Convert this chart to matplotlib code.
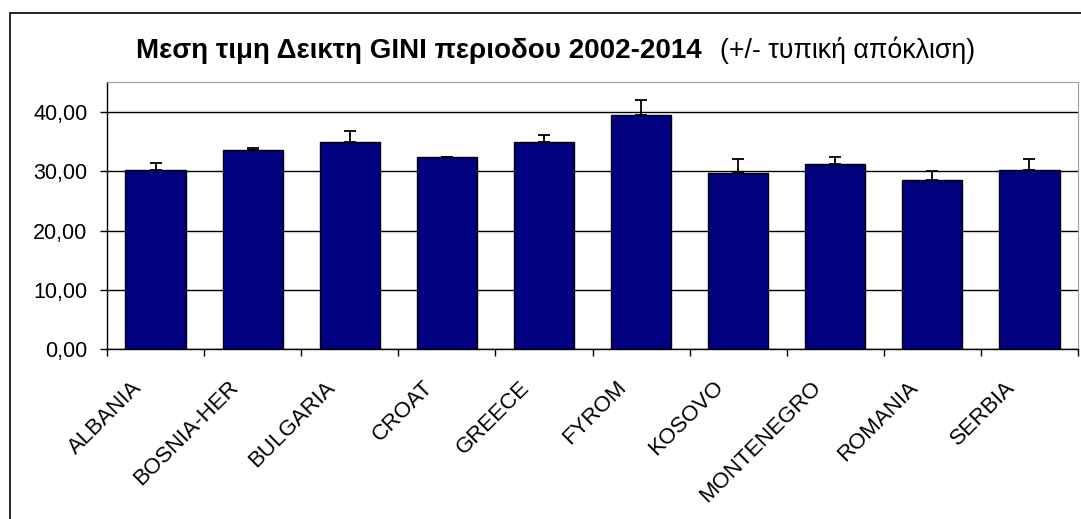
import numpy as np
import matplotlib
matplotlib.use("Agg")
import matplotlib.pyplot as plt
import matplotlib.transforms as mtransforms
from matplotlib.patches import Rectangle

plt.rcParams["font.family"] = ["Liberation Sans", "DejaVu Sans"]

# Μέση τιμή δείκτη GINI 2002-2014 και τυπική απόκλιση
countries = ["ALBANIA", "BOSNIA-HER", "BULGARIA", "CROAT", "GREECE",
             "FYROM", "KOSOVO", "MONTENEGRO", "ROMANIA", "SERBIA"]
gini_mean = [30.3, 33.6, 35.0, 32.4, 35.0, 39.5, 29.7, 31.2, 28.6, 30.3]
gini_sd = [1.2, 0.3, 1.75, 0.1, 1.2, 2.6, 2.4, 1.2, 1.5, 1.8]
yticks = [0, 10, 20, 30, 40]

W, H = 1081, 519
fig = plt.figure(figsize=(W / 100, H / 100), dpi=100)
ax = fig.add_axes([107 / W, 1 - 349 / H, (1078 - 107) / W, (349 - 82) / H])

# εξωτερικό πλαίσιο
fig.patches.append(Rectangle((10 / W, -0.2), 1.2, 1.2 - 13 / H, transform=fig.transFigure,
                             fill=False, edgecolor="black", lw=1.2, zorder=0))

x = np.arange(len(countries)) + 0.5
ax.bar(x, gini_mean, width=0.62, color="#000080", edgecolor="black", lw=1.0, zorder=2)
ax.errorbar(x, gini_mean, yerr=[np.zeros(len(gini_sd)), gini_sd], fmt="none",
            ecolor="black", elinewidth=1.3, capsize=4.3, capthick=1.3, zorder=3)

ax.set_xlim(0, len(countries))
ax.set_ylim(0, 45.1)
ax.set_yticks(yticks)
ax.set_yticklabels([f"{v:.2f}".replace(".", ",") for v in yticks], fontsize=15.5)
ax.yaxis.grid(True, color="black", lw=1.0)
ax.set_axisbelow(True)

ax.set_xticks(np.arange(len(countries) + 1))
ax.set_xticklabels([])
ax.set_xticks(x, minor=True)
ax.set_xticklabels(countries, minor=True, rotation=45, ha="right", va="top", fontsize=16)
ax.tick_params(axis="x", which="major", direction="out", length=5, width=1.0)
ax.tick_params(axis="x", which="minor", length=0, pad=20)
ax.tick_params(axis="y", direction="out", length=5, width=1.0, pad=9)
off = mtransforms.ScaledTranslation(-10 / 100, 0, fig.dpi_scale_trans)
for lab in ax.get_xticklabels(minor=True):
    lab.set_transform(lab.get_transform() + off)

for s in ["top", "right"]:
    ax.spines[s].set_color("#a0a0a0")
for s in ["left", "bottom"]:
    ax.spines[s].set_color("black")
    ax.spines[s].set_linewidth(1.0)

fig.text(702 / W, 1 - 57.5 / H, "Μεση τιμη Δεικτη GINI περιοδου 2002-2014",
         ha="right", va="baseline", fontsize=20, fontweight="bold")
fig.text(720 / W, 1 - 57.5 / H, "(+/- τυπική απόκλιση)",
         ha="left", va="baseline", fontsize=19.3)

fig.savefig("out.png", dpi=100)
